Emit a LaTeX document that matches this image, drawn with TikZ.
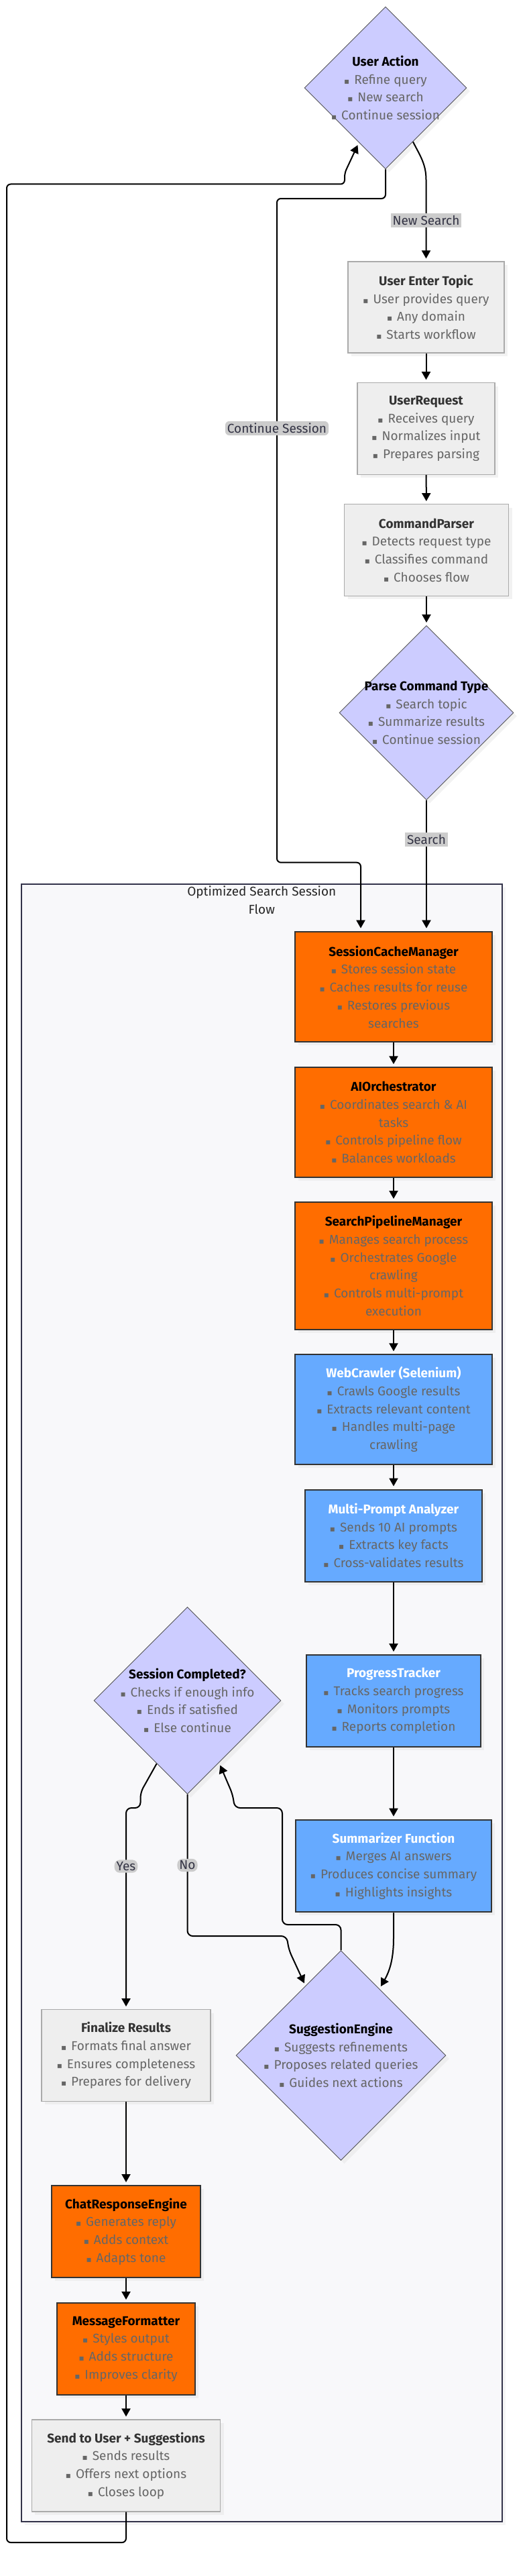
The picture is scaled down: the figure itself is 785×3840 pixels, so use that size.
\documentclass[tikz,border=0pt]{standalone}
\usepackage{fontspec}
\setmainfont{Fira Sans}
\newfontfamily\symfont{DejaVu Sans}
\usetikzlibrary{shapes.geometric,arrows.meta,positioning,shadows}

\definecolor{lilac}{HTML}{CCCCFF}
\definecolor{diamline}{HTML}{555555}
\definecolor{boxgrey}{HTML}{EEEEEE}
\definecolor{boxline}{HTML}{AAAAAA}
\definecolor{titlegrey}{HTML}{333333}
\definecolor{bulgrey}{HTML}{666666}
\definecolor{sessorange}{HTML}{FF6D00}
\definecolor{crawlblue}{HTML}{66AAFF}
\definecolor{darkline}{HTML}{333333}
\definecolor{clusterfill}{HTML}{F8F8FA}
\definecolor{clusterline}{HTML}{33334A}
\definecolor{labelgrey}{HTML}{CCCCCC}
\definecolor{labeltxt}{HTML}{333344}

\newcommand{\itm}[1]{{\color{bulgrey}{\symfont\fontsize{12}{12}\selectfont ▪}\hspace{7pt}#1}}
\newcommand{\cnt}[1]{{\color{bulgrey}#1}}

\begin{document}
\begin{tikzpicture}[x=1pt,y=1pt,
   every node/.style={font=\fontsize{19}{26.7}\selectfont},
   base/.style={align=center, inner sep=0pt,
      drop shadow={shadow xshift=5pt,shadow yshift=-5pt,fill=black!10}},
   greybox/.style={base, rectangle, fill=boxgrey, draw=boxline, line width=1.2pt, text=titlegrey},
   orangebox/.style={base, rectangle, fill=sessorange, draw=darkline, line width=2pt, text=black},
   bluebox/.style={base, rectangle, fill=crawlblue, draw=darkline, line width=2pt, text=white},
   choice/.style={base, diamond, aspect=1, inner sep=-60pt, fill=lilac, draw=diamline, line width=0.9pt, text=black},
   elabel/.style={fill=labelgrey, text=labeltxt, inner xsep=3pt, inner ysep=3pt, font=\fontsize{19}{20}\selectfont},
   edge/.style={line width=2pt, -{Triangle[length=12pt,width=13pt]}, shorten >=4pt},
]
   \useasboundingbox (0,0) rectangle (785,-3840);

   % session cluster
   \node[rectangle, fill=clusterfill, draw=clusterline, line width=2pt, minimum width=716.5pt, minimum height=2441pt,
      drop shadow={shadow xshift=5pt,shadow yshift=-5pt,fill=black!8}] (osf) at (390.25,-2538.5) {};
   \node[below=0pt of osf.north, align=center, text=black!85] (osftitle) {Optimized Search Session\\Flow};

   % entry part
   \node[choice, minimum size=242pt] (ua) at (575,-131)
      {\textbf{User Action}\\\itm{Refine query}\\\itm{New search}\\\itm{Continue session}};
   \node[greybox, minimum width=233pt, minimum height=136pt] (uet) at (635.5,-458)
      {\textbf{User Enter Topic}\\\itm{User provides query}\\\itm{Any domain}\\\itm{Starts workflow}};
   \node[greybox, minimum width=205pt, minimum height=136.5pt] (ur) at (635.5,-639)
      {\textbf{UserRequest}\\\itm{Receives query}\\\itm{Normalizes input}\\\itm{Prepares parsing}};
   \node[greybox, minimum width=245pt, minimum height=136.6pt] (cp) at (636,-820)
      {\textbf{CommandParser}\\\itm{Detects request type}\\\itm{Classifies command}\\\itm{Chooses flow}};
   \node[choice, minimum size=260pt] (pct) at (636,-1062.5)
      {\textbf{Parse Command Type}\\\itm{Search topic}\\\itm{Summarize results}\\\itm{Continue session}};

   % pipeline
   \node[orangebox, minimum width=293.5pt, minimum height=164.6pt] (scm) at (587,-1471)
      {\textbf{SessionCacheManager}\\\itm{Stores session state}\\\itm{Caches results for reuse}\\\itm{Restores previous}\\\cnt{searches}};
   \node[orangebox, minimum width=293.5pt, minimum height=163.4pt] (aio) at (587,-1673)
      {\textbf{AIOrchestrator}\\\itm{Coordinates search \& AI}\\\cnt{tasks}\\\itm{Controls pipeline flow}\\\itm{Balances workloads}};
   \node[orangebox, minimum width=293.5pt, minimum height=190pt] (spm) at (587,-1887)
      {\textbf{SearchPipelineManager}\\\itm{Manages search process}\\\itm{Orchestrates Google}\\\cnt{crawling}\\\itm{Controls multi-prompt}\\\cnt{execution}};
   \node[bluebox, minimum width=293.5pt, minimum height=163.4pt] (wc) at (587,-2101)
      {\textbf{WebCrawler (Selenium)}\\\itm{Crawls Google results}\\\itm{Extracts relevant content}\\\itm{Handles multi-page}\\\cnt{crawling}};
   \node[bluebox, minimum width=263.5pt, minimum height=137pt] (mpa) at (587,-2289)
      {\textbf{Multi-Prompt Analyzer}\\\itm{Sends 10 AI prompts}\\\itm{Extracts key facts}\\\itm{Cross-validates results}};
   \node[bluebox, minimum width=260pt, minimum height=137pt] (pt) at (587,-2535.5)
      {\textbf{ProgressTracker}\\\itm{Tracks search progress}\\\itm{Monitors prompts}\\\itm{Reports completion}};
   \node[bluebox, minimum width=292pt, minimum height=137.7pt] (sum) at (587,-2781.5)
      {\textbf{Summarizer Function}\\\itm{Merges AI answers}\\\itm{Produces concise summary}\\\itm{Highlights insights}};
   \node[choice, minimum size=279pt] (sc) at (279.5,-2535)
      {\textbf{Session Completed?}\\\itm{Checks if enough info}\\\itm{Ends if satisfied}\\\itm{Else continue}};
   \node[choice, minimum size=313pt] (se) at (508.5,-3064)
      {\textbf{SuggestionEngine}\\\itm{Suggests refinements}\\\itm{Proposes related queries}\\\itm{Guides next actions}};

   % output part
   \node[greybox, minimum width=252pt, minimum height=136.6pt] (fin) at (188,-3064)
      {\textbf{Finalize Results}\\\itm{Formats final answer}\\\itm{Ensures completeness}\\\itm{Prepares for delivery}};
   \node[orangebox, minimum width=222pt, minimum height=137pt] (cre) at (188,-3326.5)
      {\textbf{ChatResponseEngine}\\\itm{Generates reply}\\\itm{Adds context}\\\itm{Adapts tone}};
   \node[orangebox, minimum width=205.5pt, minimum height=137pt] (mf) at (188,-3501.5)
      {\textbf{MessageFormatter}\\\itm{Styles output}\\\itm{Adds structure}\\\itm{Improves clarity}};
   \node[greybox, minimum width=281.5pt, minimum height=137pt] (send) at (188,-3675.5)
      {\textbf{Send to User + Suggestions}\\\itm{Sends results}\\\itm{Offers next options}\\\itm{Closes loop}};

   % connectors
   \draw[edge] (ua.-63) to[out=-63,in=90] (uet.north |- 0,-268) -- node[elabel]{New Search} (uet.north);
   \draw[edge] (uet) -- (ur);
   \draw[edge] (ur) -- (cp);
   \draw[edge] (cp) -- (pct);
   \draw[edge, rounded corners=6pt] (ua.south) -- (575,-296) -- (413,-296)
      -- node[elabel,pos=0.346]{Continue Session} (413,-1285.7) -- (538,-1285.7) -- (scm.north -| 538,0);
   \draw[edge] (pct.south) -- node[elabel,pos=0.3]{Search} (scm.north -| pct.south);
   \draw[edge] (scm) -- (aio);
   \draw[edge] (aio) -- (spm);
   \draw[edge] (spm) -- (wc);
   \draw[edge] (wc) -- (mpa);
   \draw[edge] (mpa) -- (pt);
   \draw[edge] (pt) -- (sum);
   \draw[edge] (sum.south) -- ++(0,-38) to[out=-90,in=60] (se.60);
   \draw[edge, rounded corners=8pt] (sc.-116) -- (209.5,-2672) -- (209.5,-2695) -- (188,-2695)
      -- node[elabel,pos=0.29]{Yes} (fin.north);
   \draw[edge, rounded corners=8pt] (sc.south) -- node[elabel]{No} (279.5,-2886) -- (427.5,-2886)
      -- (431,-2907) -- (se.117);
   \draw[edge, rounded corners=8pt] (se.north) -- (508.5,-2869) -- (421,-2869) -- (421,-2695)
      -- (350,-2695) -- (347,-2675) -- (sc.-63);
   \draw[edge] (fin) -- (cre);
   \draw[edge] (cre) -- (mf);
   \draw[edge] (mf) -- (send);
   \draw[edge, rounded corners=6pt] (send.south) -- (188,-3790) -- (10,-3790) -- (10,-274.5)
      -- (514,-274.5) -- (514,-258) -- (ua.-116);
\end{tikzpicture}
\end{document}
